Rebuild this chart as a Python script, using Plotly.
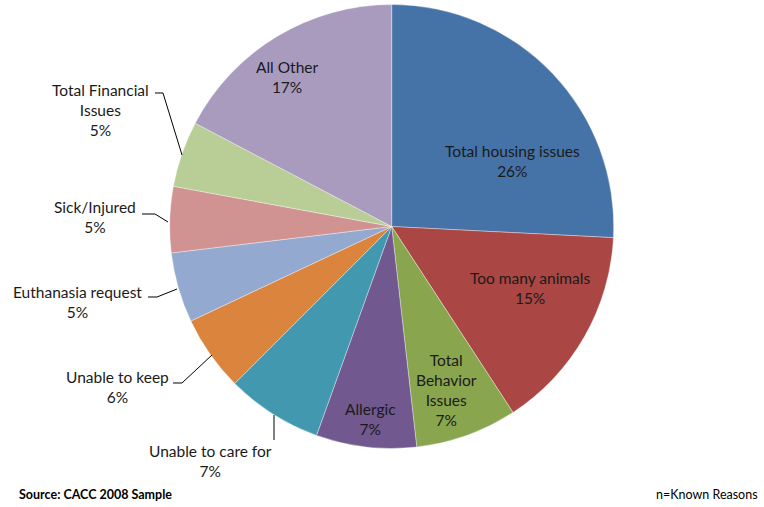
import plotly.graph_objects as go

categories = ["Total housing issues", "Too many animals", "Total<br>Behavior<br>Issues", "Allergic",
              "Unable to care for", "Unable to keep", "Euthanasia request", "Sick/Injured",
              "Total Financial<br>Issues", "All Other"]
values = [25.8, 15.0, 7.4, 7.3, 7.0, 5.5, 5.1, 4.8, 4.8, 17.3]
colors = ["#4572A7", "#AA4643", "#89A54E", "#71588F", "#4198AF",
          "#DB843D", "#93A9CF", "#D19392", "#B9CD96", "#A99BBD"]

W, H = 764, 507
FONT = "Lato"


def px(x, y):
    """reference-pixel -> paper coordinates"""
    return x / W, 1 - y / H


x0, y0 = px(169.7, 449)
x1, y1 = px(613.7, 4)

fig = go.Figure(go.Pie(
    labels=categories, values=values, sort=False, direction="clockwise", rotation=0,
    marker=dict(colors=colors, line=dict(color="rgba(255,255,255,0.6)", width=0.6)),
    textinfo="none", hoverinfo="label+percent", showlegend=False,
    domain=dict(x=[x0, x1], y=[y0, y1]),
))

# label centres in reference pixel coordinates (text placement)
label_pos = [(512, 161), (530, 288), (446, 390), (370, 419), (210, 461),
             (117, 387), (77, 302), (95, 217), (100, 110), (287, 77)]

ann = []
for cat, v, (x, y) in zip(categories, values, label_pos):
    ax, ay = px(x, y)
    ann.append(dict(x=ax, y=ay, xref="paper", yref="paper", showarrow=False,
                    xanchor="center", yanchor="middle",
                    text=f"{cat}<br>{v:.0f}%", align="center",
                    font=dict(family=FONT, size=15.5, color="#1a1a1a")))

sx, sy = px(17, 494)
ann.append(dict(x=sx, y=sy, xref="paper", yref="paper", showarrow=False,
                xanchor="left", yanchor="middle", text="<b>Source: CACC 2008 Sample</b>",
                font=dict(family=FONT, size=12.5, color="#000")))
nx, ny = px(760, 494)
ann.append(dict(x=nx, y=ny, xref="paper", yref="paper", showarrow=False,
                xanchor="right", yanchor="middle", text="n=Known Reasons",
                font=dict(family=FONT, size=12.5, color="#000")))

# leader lines (reference pixel paths)
leaders = [
    [(155, 93), (163, 93), (182, 155)],
    [(142, 214), (155, 214), (168, 222)],
    [(148, 297), (157, 297), (177, 289)],
    [(173, 383), (182, 383), (212, 355)],
    [(274, 415), (274, 440)],
]
shapes = []
for pts in leaders:
    path = "M " + " L ".join("{:.5f},{:.5f}".format(*px(x, y)) for x, y in pts)
    shapes.append(dict(type="path", xref="paper", yref="paper", path=path,
                       line=dict(color="#000", width=1)))

fig.update_layout(width=W, height=H, margin=dict(l=0, r=0, t=0, b=0),
                  paper_bgcolor="white", plot_bgcolor="white",
                  annotations=ann, shapes=shapes, font=dict(family=FONT))
fig.write_html("out.html", config={"displayModeBar": False},
               post_script="document.body.style.margin='0';")
